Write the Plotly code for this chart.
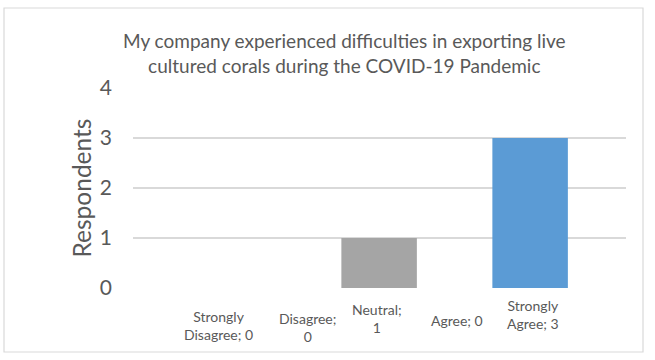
import plotly.graph_objects as go

categories = ["Strongly Disagree", "Disagree", "Neutral", "Agree", "Strongly Agree"]
respondents = [0, 0, 1, 0, 3]
bar_colors = ["#4472c4", "#ed7d31", "#a5a5a5", "#ffc000", "#5b9bd5"]
label_texts = ["Strongly<br>Disagree; 0", "Disagree;<br>0", "Neutral;<br>1", "Agree; 0", "Strongly<br>Agree; 3"]
label_yshift = [-37, -39, -30, -32, -26]
label_xshift = [-10, 4, -2, 2, 3]
y_ticks = [0, 1, 2, 3, 4]
title_text = "My company experienced difficulties in exporting live<br>cultured corals during the COVID-19 Pandemic"

W, H = 655, 360
L, R, T, B = 133, 29, 88, 72
pw, ph = W - L - R, H - T - B

xs = list(range(len(categories)))
fig = go.Figure()
fig.add_trace(go.Bar(x=xs, y=respondents, marker_color=bar_colors, width=1.0,
                     marker_line_width=0, hoverinfo="skip"))

font = "Lato, 'Open Sans', sans-serif"
for i, t in enumerate(label_texts):
    fig.add_annotation(x=xs[i], y=0, xref="x", yref="y", text=t, showarrow=False,
                       yanchor="middle", yshift=label_yshift[i], xshift=label_xshift[i],
                       font=dict(family=font, size=14, color="#595959"), align="center")

def px_x(p):
    return (p - L) / pw

def px_y(p):
    return (H - B - p) / ph

fig.add_annotation(x=px_x(344), y=px_y(53), xref="paper", yref="paper", text=title_text,
                   showarrow=False, xanchor="center", yanchor="middle",
                   font=dict(family=font, size=19, color="#595959"), align="center")

fig.add_shape(type="rect", xref="paper", yref="paper", x0=px_x(4), x1=px_x(643),
              y0=px_y(352), y1=px_y(8), line=dict(color="#d9d9d9", width=1.2),
              fillcolor="rgba(0,0,0,0)", layer="below")

fig.update_layout(
    width=W, height=H, margin=dict(l=L, r=R, t=T, b=B),
    paper_bgcolor="white", plot_bgcolor="white", showlegend=False,
    font=dict(family=font, color="#595959"),
    xaxis=dict(range=[-1.26, 5.27], showticklabels=False, showgrid=False, zeroline=False,
               showline=False, fixedrange=True),
    yaxis=dict(range=[0, 4], tickvals=y_ticks, showgrid=True, gridcolor="#d9d9d9", gridwidth=1.5,
               zeroline=False, showline=False, tickfont=dict(size=21, color="#595959"),
               ticklabelstandoff=20,
               title=dict(text="Respondents", font=dict(size=24.5, color="#595959"), standoff=1)),
)

fig.write_html("out.html")
